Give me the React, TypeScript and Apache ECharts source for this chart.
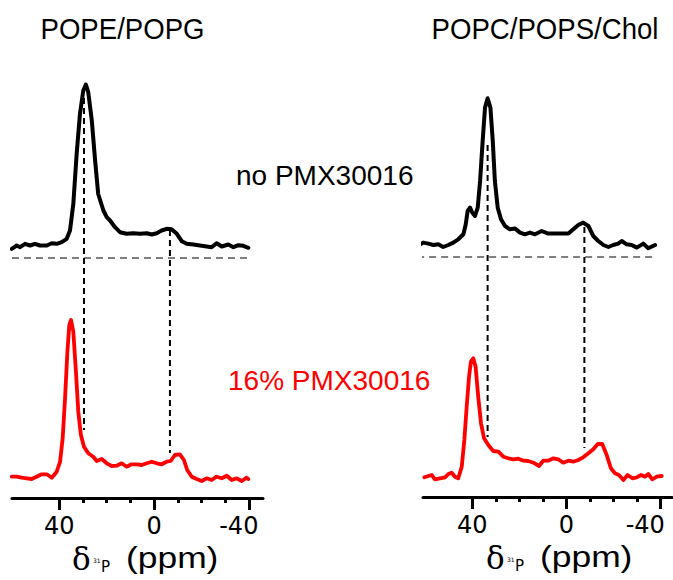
import React, { useEffect, useRef } from "react";
import * as echarts from "echarts";

// 31P NMR spectra: chemical shift (ppm) and intensity (arbitrary units)

// POPE/POPG, no peptide
const popeControlPpm = [60.1, 58.0, 56.6, 54.5, 52.4, 50.3, 48.2, 45.3, 43.2, 41.1, 39.0, 36.9, 35.5, 34.1, 32.7, 31.3, 29.9, 28.8, 27.8, 26.3, 24.9, 23.6, 21.4, 20.0, 18.6, 16.5, 14.4, 11.6, 8.8, 5.9, 3.1, 1.0, -1.1, -3.2, -5.3, -7.4, -9.6, -11.7, -13.8, -16.6, -19.4, -22.2, -24.3, -26.4, -28.6, -31.3, -33.5, -35.6, -37.7, -39.8];
const popeControlInt = [9.2, 12.5, 10.8, 14.2, 12.5, 14.2, 12.5, 12.5, 14.8, 14.2, 15.8, 19.2, 27.5, 54.2, 104, 144, 167.5, 173.5, 165.8, 137.5, 97.5, 64, 47.5, 40.8, 37.5, 30.8, 25.8, 24.2, 24.8, 24.2, 24.8, 23.5, 24.8, 27.5, 29.2, 28.8, 24.2, 16.8, 14.2, 13.5, 12.5, 11.5, 10.8, 14.8, 11.5, 13.5, 10.8, 12.8, 12.2, 10.2];

// POPE/POPG, 16% PMX30016
const popePmxPpm = [60.1, 58.0, 55.9, 53.8, 51.7, 49.6, 47.5, 45.3, 43.2, 41.1, 39.7, 38.6, 37.6, 36.6, 35.8, 35.1, 34.1, 33.0, 32.0, 30.9, 29.6, 27.8, 25.7, 24.2, 22.1, 20.0, 17.9, 15.8, 13.7, 11.6, 9.5, 7.3, 5.2, 3.1, 1.0, -1.1, -3.2, -5.3, -7.0, -8.8, -10.9, -12.6, -14.0, -15.9, -18.0, -20.1, -22.2, -24.3, -26.4, -28.6, -30.7, -32.8, -34.9, -37.0, -39.1, -39.8];
const popePmxInt = [1.3, 1.3, 0.3, -0.3, -1, 1.3, 3.7, 3.7, 0.3, 6.3, 16.3, 39.7, 79.7, 126.3, 153, 158, 146.3, 106.3, 66.3, 43, 31.3, 24.7, 21.3, 17, 19, 14.7, 12, 12.3, 14.7, 11.3, 13.7, 13.7, 13, 14.7, 16.3, 14.7, 13.7, 16.3, 17, 23, 23.7, 18, 8, 1.3, -1, -3, -0.3, -2, 1.3, -0.3, 2.3, -2, -0.3, -3, 0.3, -1];

// POPC/POPS/Chol, no peptide
const popcControlPpm = [63.3, 60.9, 58.7, 56.6, 54.5, 52.4, 50.2, 48.1, 46.0, 43.8, 42.8, 42.0, 41.0, 40.0, 38.9, 37.7, 36.7, 35.6, 34.6, 33.5, 32.3, 31.3, 30.4, 29.2, 27.8, 26.1, 24.0, 21.8, 19.7, 17.6, 15.5, 13.3, 10.5, 7.7, 4.8, 2.0, -0.9, -3.0, -5.1, -7.2, -9.4, -11.5, -13.6, -15.8, -17.9, -20.0, -22.1, -23.6, -25.7, -27.8, -30.0, -32.8, -34.9, -37.8];
const popcControlInt = [11, 14.4, 13.4, 12, 12.7, 10, 12, 14.4, 17.7, 22.7, 32.7, 46, 49.4, 44.4, 41, 49.4, 76, 116, 149.4, 158.7, 149.4, 116, 76, 49.4, 37.7, 31, 27.7, 28.4, 24.4, 22.7, 24.4, 22.7, 26, 23.4, 23.4, 23.4, 23.4, 27.7, 32, 34.4, 31, 21, 16, 12, 10, 12, 13.4, 16, 12.7, 12, 9.4, 13.4, 8.7, 12];

// POPC/POPS/Chol, 16% PMX30016
const popcPmxPpm = [60.4, 58.7, 57.3, 55.9, 53.8, 51.6, 50.2, 48.8, 47.4, 46.0, 44.5, 43.4, 42.4, 41.4, 40.6, 39.6, 38.6, 37.5, 36.3, 35.0, 33.2, 31.1, 28.9, 26.8, 24.7, 22.6, 20.4, 18.3, 16.2, 14.0, 11.6, 9.8, 7.7, 5.5, 3.4, 1.3, -0.9, -3.0, -5.1, -7.2, -9.4, -11.5, -13.4, -15.3, -17.2, -19.0, -20.7, -22.4, -24.3, -26.1, -28.1, -30.0, -31.8, -33.5, -34.9, -36.6, -38.5, -40.6];
const popcPmxInt = [-0.3, 1, 2, -2.3, -1.3, -0.3, 3, 4.3, 0.3, -1.3, 10.3, 37, 70.3, 100.3, 115.3, 118.7, 110.3, 80.3, 53.7, 38.7, 32, 26, 25.3, 20.3, 18.7, 17.7, 18.3, 16.3, 16, 14.3, 11, 16.3, 16.3, 18.7, 17.7, 14.3, 16.3, 15.3, 17, 19.7, 23.7, 27.7, 33, 33, 22, 8.7, 3.7, 2, -3, 2, -1.3, -0.3, 2, 0.3, 3, -2.3, 0.3, 1];

// Guide lines linking the control resonances to the peptide spectra
const popeGuidePpm = [29.6, -6.7];
const popeGuideTop = [400, 268];
const popeGuideBottom = [68, 45];
const popcGuidePpm = [33.5, -7.7];
const popcGuideTop = [352, 270];
const popcGuideBottom = [60, 49];

// Zero-intensity reference under each control spectrum
const popeBaselineSpan = [60, -40.5];
const popcBaselineSpan = [63.5, -38.6];

const majorTicks = [40, 0, -40];
const minorTicks = [30, 20, 10, -10, -20, -30];

const panelTitles = ["POPE/POPG", "POPC/POPS/Chol"];
const sampleLabels = ["no PMX30016", "16% PMX30016"];

const TOP_OFFSET = 240;
const BOTTOM_OFFSET = 20;

const SANS = "Liberation Sans, Arial, sans-serif";
const TICK_FONT = "DejaVu Sans";

const toData = (ppm: number[], intensity: number[], offset: number) =>
  ppm.map((p, i) => [p, intensity[i] + offset]);

const baseLine = {
  type: "line",
  symbol: "none",
  showSymbol: false,
  clip: false,
  silent: true,
  animation: false,
};

function panelSeries(
  grid: number,
  xAxisIndex: number,
  controlPpm: number[],
  controlInt: number[],
  pmxPpm: number[],
  pmxInt: number[],
  guidePpm: number[],
  guideTop: number[],
  guideBottom: number[],
  baselineSpan: number[]
) {
  const out: any[] = [];
  out.push({
    ...baseLine,
    xAxisIndex,
    yAxisIndex: grid,
    z: 1,
    data: baselineSpan.map((p) => [p, TOP_OFFSET]),
    lineStyle: { color: "#7f7f7f", width: 1.8, type: [7, 5] },
  });
  guidePpm.forEach((p, i) => {
    out.push({
      ...baseLine,
      xAxisIndex,
      yAxisIndex: grid,
      z: 1,
      data: [
        [p, guideTop[i]],
        [p, guideBottom[i]],
      ],
      lineStyle: { color: "#000", width: 2, type: [6, 4] },
    });
  });
  out.push({
    ...baseLine,
    xAxisIndex,
    yAxisIndex: grid,
    z: 3,
    data: toData(controlPpm, controlInt, TOP_OFFSET),
    lineStyle: { color: "#000", width: 4, join: "round", cap: "round" },
  });
  out.push({
    ...baseLine,
    xAxisIndex,
    yAxisIndex: grid,
    z: 3,
    data: toData(pmxPpm, pmxInt, BOTTOM_OFFSET),
    lineStyle: { color: "#ff0000", width: 3.8, join: "round", cap: "round" },
  });
  return out;
}

// negPad nudges the negative label leftwards (it is centred in a padded box)
function xAxes(grid: number, min: number, max: number, negPad: number) {
  return [
    {
      type: "value",
      gridIndex: grid,
      min,
      max,
      inverse: true,
      position: "bottom",
      splitLine: { show: false },
      axisLine: { show: true, lineStyle: { color: "#000", width: 3 } },
      axisTick: {
        show: true,
        customValues: majorTicks,
        length: 12,
        lineStyle: { color: "#000", width: 3 },
      },
      axisLabel: {
        show: true,
        customValues: majorTicks,
        margin: 16,
        color: "#000",
        fontFamily: TICK_FONT,
        fontSize: 24,
        hideOverlap: false,
        formatter: (v: number) => (v < 0 ? `{neg|${v}}` : `${v}`),
        rich: {
          neg: {
            color: "#000",
            fontFamily: TICK_FONT,
            fontSize: 24,
            padding: [0, negPad, 0, 0],
          },
        },
      },
    },
    {
      type: "value",
      gridIndex: grid,
      min,
      max,
      inverse: true,
      position: "bottom",
      splitLine: { show: false },
      axisLine: { show: false },
      axisTick: {
        show: true,
        customValues: minorTicks,
        length: 5,
        lineStyle: { color: "#000", width: 3 },
      },
      axisLabel: { show: false },
    },
  ];
}

function textEl(
  text: string,
  x: number,
  y: number,
  family: string,
  size: number,
  color: string,
  align: string,
  scaleX = 1
) {
  return {
    type: "text",
    x,
    y,
    scaleX,
    silent: true,
    style: {
      text,
      fill: color,
      fontFamily: family,
      fontSize: size,
      align,
      verticalAlign: "middle",
    },
  };
}

// δ(31P) (ppm) axis caption under each panel
function axisTitle(dx: number, dy: number) {
  return [
    textEl("δ", 72 + dx, 559 + dy, "DejaVu Serif", 31, "#000", "left"),
    textEl("31", 93 + dx, 560 + dy, "DejaVu Sans", 6, "#000", "left"),
    textEl("P", 101 + dx, 567 + dy, "DejaVu Sans", 15, "#000", "left"),
    textEl("(ppm)", 126 + dx, 557 + dy, SANS, 30, "#000", "left", 1.18),
  ];
}

const option: any = {
  animation: false,
  backgroundColor: "#ffffff",
  grid: [
    { left: 12, width: 251, top: 0, height: 498, outerBoundsMode: "none", containLabel: false },
    { left: 423, width: 249, top: 0, height: 497, outerBoundsMode: "none", containLabel: false },
  ],
  xAxis: [...xAxes(0, -46, 60, 20), ...xAxes(1, -45, 61, 30)],
  yAxis: [
    { type: "value", gridIndex: 0, min: 0, max: 498, show: false },
    { type: "value", gridIndex: 1, min: 0, max: 497, show: false },
  ],
  series: [
    ...panelSeries(0, 0, popeControlPpm, popeControlInt, popePmxPpm, popePmxInt, popeGuidePpm, popeGuideTop, popeGuideBottom, popeBaselineSpan),
    ...panelSeries(1, 2, popcControlPpm, popcControlInt, popcPmxPpm, popcPmxInt, popcGuidePpm, popcGuideTop, popcGuideBottom, popcBaselineSpan),
  ],
  graphic: [
    textEl(panelTitles[0], 122.5, 29, SANS, 30, "#000", "center", 0.92),
    textEl(panelTitles[1], 545, 29, SANS, 30, "#000", "center", 0.92),
    textEl(sampleLabels[0], 236, 175, SANS, 28, "#000", "left"),
    textEl(sampleLabels[1], 228, 380, SANS, 28, "#ff0000", "left"),
    ...axisTitle(0, 0),
    ...axisTitle(414, -1),
  ],
};

export default function App() {
  const ref = useRef<HTMLDivElement>(null);
  useEffect(() => {
    const chart = echarts.init(ref.current!, undefined, { renderer: "svg" });
    chart.setOption(option);
    return () => chart.dispose();
  }, []);
  return (
    <div
      ref={ref}
      style={{ position: "fixed", left: 0, top: 0, width: 673, height: 580, background: "#fff" }}
    />
  );
}
